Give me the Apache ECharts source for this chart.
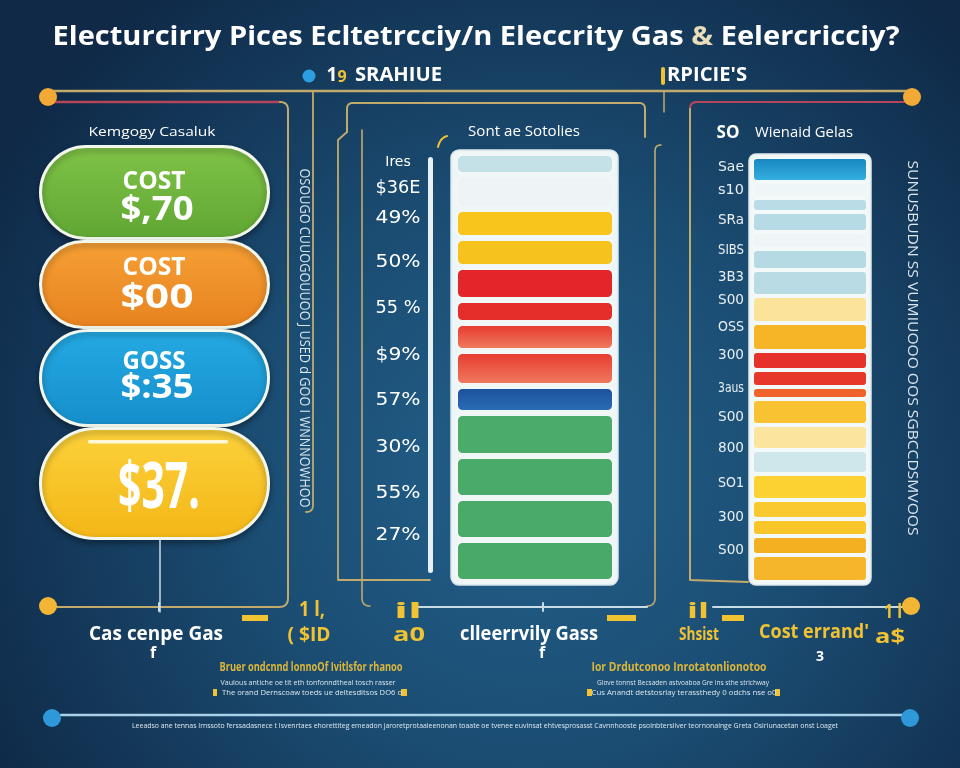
<!DOCTYPE html>
<html><head><meta charset="utf-8">
<script src="https://cdn.jsdelivr.net/npm/echarts@6/dist/echarts.min.js"></script>
<style>html,body{margin:0;padding:0;background:#12304f}#c{width:960px;height:768px}</style>
</head><body><div id="c"></div>
<script>
// ---------- data ----------
const pillCategories = ['COST', 'COST', 'GOSS', ''];
const pillValues = ['$,70', '$00', '$:35', '$37.'];
const pillHeights = [95, 89, 98, 113];
const pillColors = [['#80c347', '#5fa633'], ['#f6a035', '#e7821f'], ['#25aae3', '#158ecb'], ['#fcd23c', '#f3b616']];

const midSegments = [22, 34, 29, 29, 33, 23, 28, 35, 27, 43, 42, 42, 42];
const midColors = ['#c3e1e6', '#eef4f5', '#f7c51c', '#f6c21e', '#e3262a', '#e52d2a',
  ['#e6332a', '#f08263'], ['#e6362c', '#f08062'], ['#1b4e98', '#2b6fba'],
  '#4aab6b', '#49aa69', '#49aa6a', '#48a968'];
const midTicks = ['Ires', '$36E', '49%', '50%', '55 %', '$9%', '57%', '30%', '55%', '27%'];

const rightSegments = [25, 16, 14, 20, 17, 21, 26, 27, 28, 19, 17, 12, 26, 25, 24, 26, 19, 17, 19, 27];
const rightColors = [['#1583bf', '#38b2e2'], '#eef6f8', '#b9dce6', '#b7dbe5', '#eef5f7', '#b6dae4', '#b8dbe4',
  '#fbe39a', '#f6b526', '#e5322a', '#e7372b', '#f0622b', '#f8c232', '#fbe59e', '#cfe6ea',
  '#fbd232', '#f9c92e', '#f9c62a', '#f5b021', '#f6b62b'];
const rightTicks = ['Sae', 's10', 'SRa', 'SIBS', '3B3', 'S00', 'OSS', '300', '3aus', 'S00', '800', 'SO1', '300', 'S00'];

// ---------- layout (positions only) ----------
const midTickY = [162, 188, 218, 262, 308, 355, 400, 447, 493, 535];
const rightTickY = [167, 190, 220, 250, 277, 300, 327, 355, 388, 417, 448, 483, 517, 550];

const ctx = document.createElement('canvas').getContext('2d');
const FAM = '"Open Sans", "DejaVu Sans", sans-serif';
function T(x, y, str, o) {
  o = o || {};
  const fam = o.family || FAM, size = o.size || 14, weight = o.weight || 'normal';
  const el = {type: 'text', x: x, y: y, z: o.z || 50, silent: true,
    style: {text: str, fontFamily: fam, fontSize: size, fontWeight: weight,
      fill: o.color || '#ffffff', textAlign: o.align || 'center', textVerticalAlign: 'middle'}};
  if (o.rich) el.style.rich = o.rich;
  if (o.w) {
    ctx.font = weight + ' ' + size + 'px ' + fam;
    const m = ctx.measureText(o.plain || str).width;
    el.scaleX = o.w / m;
  }
  if (o.rot) el.rotation = o.rot;
  return el;
}
// simple path (M, L, Q) -> polylines
function L(d, color, w, z) {
  const toks = d.match(/[MLQ]|-?[\d.]+/g);
  const out = [];
  let pts = null, cur = [0, 0], i = 0, cmd = null;
  while (i < toks.length) {
    if (/[MLQ]/.test(toks[i])) { cmd = toks[i]; i++; }
    if (cmd === 'M') {
      if (pts && pts.length > 1) out.push(pts);
      cur = [+toks[i], +toks[i + 1]]; i += 2; pts = [cur.slice()];
    } else if (cmd === 'L') {
      cur = [+toks[i], +toks[i + 1]]; i += 2; pts.push(cur.slice());
    } else if (cmd === 'Q') {
      const c = [+toks[i], +toks[i + 1]], e = [+toks[i + 2], +toks[i + 3]]; i += 4;
      for (let k = 1; k <= 8; k++) {
        const t = k / 8, a = (1 - t) * (1 - t), b = 2 * (1 - t) * t, q = t * t;
        pts.push([a * cur[0] + b * c[0] + q * e[0], a * cur[1] + b * c[1] + q * e[1]]);
      }
      cur = e;
    } else { i++; }
  }
  if (pts && pts.length > 1) out.push(pts);
  return out.map(function (p) {
    return {type: 'polyline', z: z || 5, silent: true, shape: {points: p},
      style: {stroke: color, lineWidth: w || 2, fill: null, lineCap: 'round', lineJoin: 'round'}};
  });
}
function grad(c) {
  return Array.isArray(c) ? new echarts.graphic.LinearGradient(0, 0, 0, 1, [{offset: 0, color: c[0]}, {offset: 1, color: c[1]}]) : c;
}
const TAN = '#c2aa6c', RED = '#b5465a', PALE = '#c9dce6', YEL = '#f1c232';

const g = [];
function add(x) { if (Array.isArray(x)) x.forEach(function (e) { g.push(e); }); else g.push(x); }
// background
add({type: 'rect', z: -10, silent: true, shape: {x: 0, y: 0, width: 960, height: 768},
  style: {fill: new echarts.graphic.RadialGradient(0.55, 0.62, 0.8, [
    {offset: 0, color: '#22608b'}, {offset: 0.45, color: '#1b4d73'}, {offset: 1, color: '#0f2947'}])}});

// title
const titlePlain = 'Electurcirry Pices Ecltetrcciy/n Eleccrity Gas & Eelercricciy?';
add(T(476, 37, 'Electurcirry Pices Ecltetrcciy/n Eleccrity Gas {amp|&} Eelercricciy?',
  {size: 27, weight: 700, w: 847, plain: titlePlain,
   rich: {amp: {fill: '#e9dcb8', fontSize: 27, fontWeight: 700, fontFamily: FAM}}}));

// sub header
add({type: 'circle', z: 20, silent: true, shape: {cx: 309, cy: 76, r: 6.5}, style: {fill: '#2c9fe0'}});
add(T(332, 76, '1', {size: 19, weight: 700}));
add(T(342, 77, '9', {size: 16, weight: 700, color: YEL}));
add(T(355, 76, 'SRAHIUE', {size: 19, weight: 700, align: 'left', w: 87}));
add({type: 'rect', z: 20, silent: true, shape: {x: 661, y: 67, width: 4, height: 18, r: 2}, style: {fill: YEL}});
add(T(667, 76, 'RPICIE\'S', {size: 19, weight: 700, align: 'left', w: 80}));

// top lines
add(L('M49,91 L912,91', TAN, 2.5));
add(L('M55,102 L280,102', RED, 2.5));
add({type: 'circle', z: 20, silent: true, shape: {cx: 48, cy: 97, r: 9}, style: {fill: '#f2a935'}});
add({type: 'circle', z: 20, silent: true, shape: {cx: 912, cy: 97, r: 9}, style: {fill: '#f2a935'}});

// left panel frame
add(L('M280,102 Q288,102 288,110 L288,598 Q288,607 279,607 L49,607', TAN, 2));
add(L('M313,91 L313,505 Q313,512 306,512', TAN, 1.8));
add(L('M160,540 L160,612', PALE, 1.5));
// middle frame
add(L('M347,132 L347,109 Q347,103 353,103 L639,103 Q645,103 645,109 L645,137', TAN, 2));
add(L('M347,132 L338,140 L338,580 L430,580', TAN, 1.8));
add(L('M362,130 L362,598 Q362,606 370,606', TAN, 1.6));
add(L('M661,145 Q655,145 655,151 L655,598 Q655,606 647,606', TAN, 1.6));
add(L('M664,91 L664,112', TAN, 1.5));
add(L('M438,147 Q440,138 447,136', YEL, 2));
// right frame
add(L('M905,102 L697,102 Q690,102 690,109', RED, 2.2));
add(L('M690,109 L690,580 L748,582', TAN, 2));
// bottom line 607
add(L('M418,607 L647,607 M543,603 L543,611', PALE, 2));
add(L('M713,607 L906,607 M159,603 L159,611', PALE, 2));
add({type: 'circle', z: 20, silent: true, shape: {cx: 48, cy: 606, r: 9}, style: {fill: '#f2b534'}});
add({type: 'circle', z: 20, silent: true, shape: {cx: 911, cy: 606, r: 9}, style: {fill: '#f2b534'}});
// yellow dashes
[[242, 26], [607, 29], [722, 22]].forEach(function (d) {
  add({type: 'rect', z: 20, silent: true, shape: {x: d[0], y: 615, width: d[1], height: 6}, style: {fill: YEL}});
});

// containers behind bars
add({type: 'rect', z: 1, silent: true, shape: {x: 451, y: 150, width: 167, height: 435, r: 8},
  style: {fill: '#eef5f6', stroke: '#d7e6ea', lineWidth: 1.5}});
add({type: 'rect', z: 1, silent: true, shape: {x: 749, y: 154, width: 122, height: 431, r: 7},
  style: {fill: '#f1f6f7', stroke: '#dde9ed', lineWidth: 1.5}});
// white vertical bar
add({type: 'rect', z: 5, silent: true, shape: {x: 428, y: 157, width: 5, height: 416, r: 2.5}, style: {fill: '#e7f0f4'}});

// headers
add(T(152, 132, 'Kemgogy Casaluk', {size: 13, w: 127}));
add(T(524, 132, 'Sont ae Sotolies', {size: 14, w: 112}));
add(T(728, 133, 'SO', {size: 17, weight: 700}));
add(T(755, 133, 'Wienaid Gelas', {size: 15, align: 'left', w: 98}));

// pill labels
const pillTopY = [182, 268, 362], pillValY = [210, 298, 388];
for (let i = 0; i < 3; i++) {
  add(T(154, pillTopY[i], pillCategories[i], {size: 25, weight: 700, w: 63, z: 60}));
  add(T(157, pillValY[i], pillValues[i], {size: 34, weight: 700, w: 73, z: 60}));
}
add({type: 'rect', z: 60, silent: true, shape: {x: 88, y: 440, width: 140, height: 3.5, r: 1.5}, style: {fill: '#fff7d8'}});
add(T(159, 490, pillValues[3], {size: 64, weight: 700, w: 82, z: 60}));

// middle tick labels
midTicks.forEach(function (t, i) {
  add(T(398, midTickY[i], t, i === 0 ? {size: 14, family: '"DejaVu Sans", sans-serif'} : {size: 18, family: '"DejaVu Sans", sans-serif', w: 45}));
});
// right tick labels
rightTicks.forEach(function (t, i) {
  add(T(731, rightTickY[i], t, {size: 14, family: '"DejaVu Sans", sans-serif', color: '#e9eff4', w: 26}));
});

// vertical texts
add(T(304, 338, 'OSOUGO CUUOGOUUOO J USED d GOO I WNNNOWHOO', {size: 14, color: '#dbe6ee', w: 339, rot: -Math.PI / 2}));
add(T(912, 348, 'SUNUSBUDN SS VUMIUOOO OOS SGBCCDSMVOOS', {size: 15, color: '#dbe6ee', w: 375, rot: -Math.PI / 2}));

// bottom texts
add(T(156, 634, 'Cas cenpe Gas', {size: 20, weight: 700, w: 134}));
add(T(153, 653, 'f', {size: 16, weight: 700}));
add(T(312, 610, '1 l,', {size: 22, weight: 700, color: YEL, w: 26}));
add(T(309, 635, '( $ID', {size: 20, weight: 700, color: YEL, w: 43}));
add(T(408, 612, 'il', {size: 22, weight: 700, color: YEL, w: 28}));
add(T(409, 635, 'a0', {size: 20, weight: 700, color: YEL, w: 32}));
add(T(529, 634, 'clleerrvily Gass', {size: 20, weight: 700, w: 138}));
add(T(542, 653, 'f', {size: 16, weight: 700}));
add(T(698, 612, 'il', {size: 22, weight: 700, color: YEL, w: 22}));
add(T(699, 635, 'Shsist', {size: 17, weight: 700, color: YEL, w: 40}));
add(T(814, 633, 'Cost errand\'', {size: 19, weight: 700, color: YEL, w: 110}));
add(T(890, 637, 'a$', {size: 20, weight: 700, color: YEL, w: 30}));
add(T(893, 612, '1 l', {size: 20, weight: 700, color: YEL, w: 18}));
add(T(820, 657, '3', {size: 14, weight: 700}));
add(T(311, 668, 'Bruer ondcnnd lonnoOf Ivitlsfor rhanoo', {size: 12, weight: 700, color: '#dcb63a', w: 183}));
add(T(679, 668, 'Ior Drdutconoo Inrotatonlionotoo', {size: 12, weight: 700, color: '#dcb63a', w: 175}));
add(T(308, 683, 'Vaulous antiche oe tit eth tonfonndtheal tosch rasser', {size: 8, color: '#dbe7ef', w: 175}));
add(T(312, 693, 'The orand Dernscoaw toeds ue deltesditsos DO6 o', {size: 8, color: '#dbe7ef', w: 180}));
add({type: 'rect', z: 20, silent: true, shape: {x: 213, y: 689, width: 4, height: 7}, style: {fill: YEL}});
add({type: 'rect', z: 20, silent: true, shape: {x: 401, y: 689, width: 6, height: 7}, style: {fill: YEL}});
add(T(683, 683, 'Glove tonnst Becsaden astvoaboa Gre ins sthe strichway', {size: 8, color: '#dbe7ef', w: 172}));
add(T(684, 693, 'Cus Anandt detstosrlay terassthedy 0 odchs nse o0', {size: 8, color: '#dbe7ef', w: 185}));
add({type: 'rect', z: 20, silent: true, shape: {x: 587, y: 689, width: 5, height: 7}, style: {fill: YEL}});
add({type: 'rect', z: 20, silent: true, shape: {x: 775, y: 689, width: 5, height: 7}, style: {fill: YEL}});
// blue bottom line
add(L('M61,715 L903,715', '#a8d0e8', 2.5));
add({type: 'circle', z: 20, silent: true, shape: {cx: 52, cy: 718, r: 9}, style: {fill: '#2f98d8'}});
add({type: 'circle', z: 20, silent: true, shape: {cx: 910, cy: 718, r: 9}, style: {fill: '#2f98d8'}});
add(T(485, 726, 'Leeadso ane tennas Irnssoto ferssadasnece t Isvenrtaes ehorettiteg emeadon jaroretprotaaleenonan toaate oe tvenee euvinsat ehtvesprosasst Cavnnhooste psoinbtersliver teornonalnge Greta Osiriunacetan onst Loaget', {size: 8, color: '#dfe9f1', w: 706}));

// ---------- series ----------
function stack(vals, colors, idx, name, style) {
  return vals.map(function (v, i) {
    return {type: 'bar', name: name + i, xAxisIndex: idx, yAxisIndex: idx, stack: name,
      barWidth: '100%', silent: true, animation: false, data: [v],
      itemStyle: Object.assign({color: grad(colors[i])}, style)};
  });
}
const series = [].concat(
  pillHeights.map(function (v, i) {
    return {type: 'bar', name: 'pill' + i, xAxisIndex: 0, yAxisIndex: 0, stack: 'pill', barWidth: '100%',
      silent: true, animation: false, data: [v],
      itemStyle: {color: grad(pillColors[i]), borderColor: '#f2f7ee', borderWidth: 3, borderRadius: v / 2,
        shadowBlur: 6, shadowColor: 'rgba(0,0,0,0.35)', shadowOffsetY: 3}};
  }),
  stack(midSegments, midColors, 1, 'mid', {borderColor: '#f1f7f7', borderWidth: 3, borderRadius: 6}),
  stack(rightSegments, rightColors, 2, 'right', {borderColor: '#f3f8f9', borderWidth: 2, borderRadius: 4})
);
const sum = function (a) { return a.reduce(function (s, v) { return s + v; }, 0); };

const option = {
  animation: false,
  grid: [
    {left: 39, top: 145, width: 231, height: sum(pillHeights)},
    {left: 455, top: 153, width: 160, height: sum(midSegments)},
    {left: 752, top: 157, width: 116, height: sum(rightSegments)}
  ],
  xAxis: [0, 1, 2].map(function (i) { return {gridIndex: i, type: 'category', data: ['c'], show: false}; }),
  yAxis: [
    {gridIndex: 0, type: 'value', inverse: true, min: 0, max: sum(pillHeights), show: false},
    {gridIndex: 1, type: 'value', inverse: true, min: 0, max: sum(midSegments), show: false},
    {gridIndex: 2, type: 'value', inverse: true, min: 0, max: sum(rightSegments), show: false}
  ],
  graphic: {elements: g},
  series: series
};
const chart = echarts.init(document.getElementById('c'), null, {renderer: 'canvas'});
chart.setOption(option);
</script></body></html>
